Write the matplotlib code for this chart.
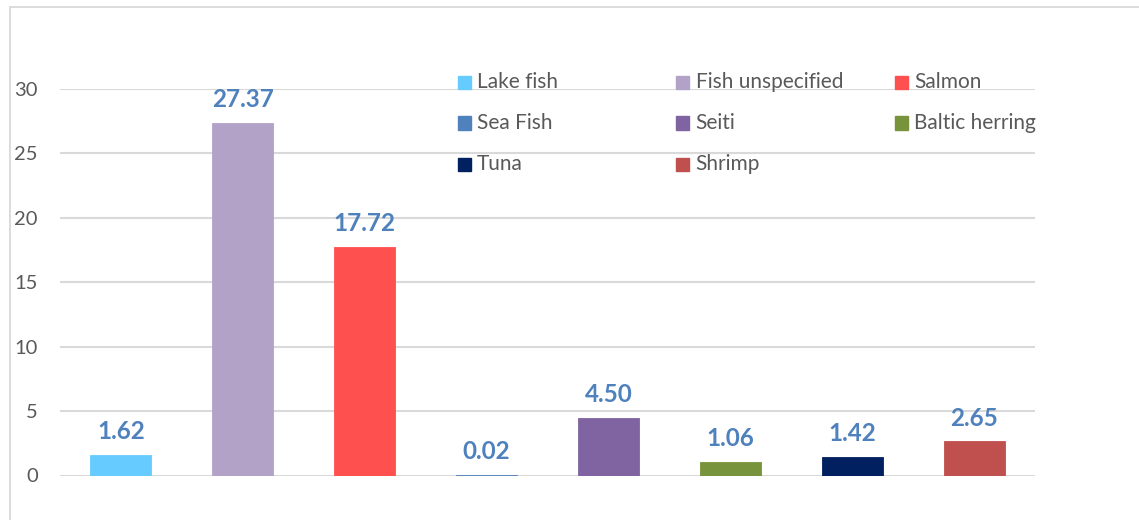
import matplotlib.pyplot as plt
from matplotlib.patches import Rectangle

# ---------- Data ----------
categories = ["Lake fish", "Fish unspecified", "Salmon", "Sea Fish",
              "Seiti", "Baltic herring", "Tuna", "Shrimp"]
values = [1.62, 27.37, 17.72, 0.02, 4.50, 1.06, 1.42, 2.65]
colors = ["#66CCFF", "#B3A2C7", "#FF5050", "#4F81BD",
          "#8064A2", "#77933C", "#002060", "#C0504D"]
yticks = [0, 5, 10, 15, 20, 25, 30]

plt.rcParams["font.family"] = ["Lato", "DejaVu Sans"]

W, H = 1139, 520
fig = plt.figure(figsize=(W / 100, H / 100), dpi=100)

# light frame round the chart area
fig.add_artist(Rectangle((10 / W, -0.1), 1.2, (H - 7) / H + 0.1,
                         transform=fig.transFigure, fill=False,
                         edgecolor="#D9D9D9", linewidth=1.3))

ax = fig.add_axes([60 / W, 44.5 / H, 975 / W, 386.5 / H])
x = list(range(len(categories)))
ax.bar(x, values, width=0.5, color=colors, edgecolor=colors,
       linewidth=0.6, zorder=2)

for xi, v in zip(x, values):
    ax.annotate(f"{v:.2f}", (xi, v), xytext=(0, 8.5), textcoords="offset points",
                ha="center", va="bottom", fontsize=17.5, fontweight="bold",
                color="#4F81BD", annotation_clip=False)

ax.set_xlim(-0.5, len(categories) - 0.5)
ax.set_ylim(0, 30)
ax.set_yticks(yticks)
ax.set_xticks([])
ax.tick_params(axis="y", length=0, pad=16, labelsize=14.5, labelcolor="#595959")
ax.grid(axis="y", color="#D9D9D9", linewidth=1.5, zorder=0)
ax.set_axisbelow(True)
for s in ax.spines.values():
    s.set_visible(False)

# ---------- Legend (3 equal-width columns, row-wise like the source) ----------
x0, dx = 458, 218.5
y0, dy = 82, 41
for i, (name, col) in enumerate(zip(categories, colors)):
    r, c = divmod(i, 3)
    px = x0 + c * dx
    py = y0 + r * dy
    fig.add_artist(Rectangle((px / W, 1 - (py + 6.5) / H), 13 / W, 13 / H,
                             transform=fig.transFigure, color=col))
    fig.text((px + 19) / W, 1 - py / H, name, fontsize=15, color="#595959",
             va="center", ha="left")

fig.savefig("out.png", dpi=100)
